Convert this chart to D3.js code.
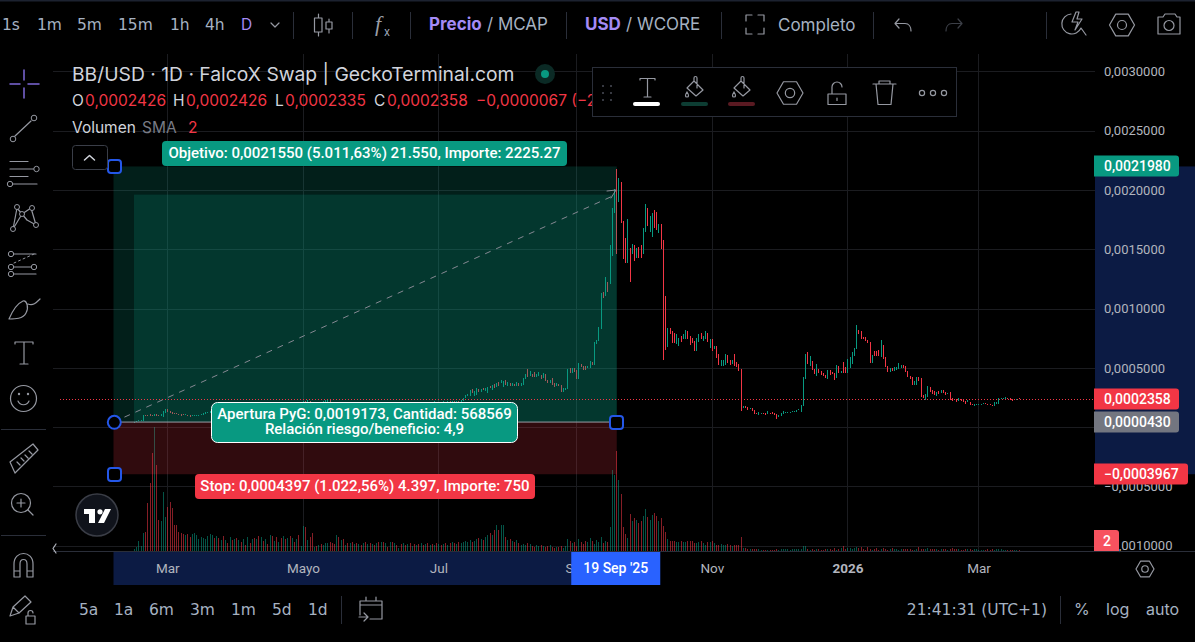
<!DOCTYPE html>
<html>
<head>
<meta charset="utf-8">
<script src="https://cdnjs.cloudflare.com/ajax/libs/d3/7.8.5/d3.min.js"></script>
<style>
  html, body { margin: 0; padding: 0; background: #000; overflow: hidden; }
  text { font-family: Roboto, "Noto Sans", sans-serif; }
</style>
</head>
<body>
<div id="chart"></div>
<script>
// prices are in millionths of a USD
var priceUnit = 1e-6;
var firstDay = new Date(2025, 1, 14);

var opens = [
  40,44,50,56,55,105,100,108,104,96,
  108,103,96,82,122,150,135,128,122,118,
  112,108,112,100,106,100,92,92,98,96,
  100,106,112,118,122,130,148,142,154,146,
  158,150,162,156,166,160,170,160,172,164,
  176,168,178,168,180,172,182,174,184,176,
  188,178,190,182,192,184,194,186,196,186,
  198,188,200,192,204,196,205,222,210,224,
  208,198,206,196,210,202,216,210,226,214,
  204,194,204,192,200,188,198,186,196,184,
  194,184,196,186,198,188,200,190,202,192,
  204,194,206,196,208,198,204,194,206,196,
  206,198,208,198,210,200,212,202,206,196,
  208,200,212,202,214,204,216,206,214,204,
  216,206,218,208,220,210,220,214,224,246,
  260,266,322,266,270,325,300,330,305,290,
  350,315,365,340,385,370,340,395,350,370,
  350,360,345,375,350,355,405,490,430,450,
  465,425,430,443,417,451,401,376,418,376,
  350,367,359,300,316,325,502,460,502,485,
  409,536,519,519,502,502,553,527,705,730,
  831,1143,1110,1228,1211,1447,1802,2173,1895,2063,
  1734,1591,1388,1507,1456,1532,1422,1515,1532,1464,
  1642,1844,1642,1600,1827,1810,1633,1709,1582,1110,
  680,840,814,797,705,688,772,747,747,814,
  772,755,730,646,722,797,730,747,797,671,
  747,663,688,620,519,519,527,612,570,535,
  620,553,536,494,165,181,173,156,165,148,
  122,105,114,122,122,110,122,131,122,114,
  88,97,114,122,125,125,127,128,131,146,
  131,181,409,637,519,561,494,435,494,477,
  460,443,409,485,468,460,418,519,460,553,
  510,460,502,536,603,663,823,814,764,764,
  739,722,544,646,646,654,595,696,595,519,
  468,502,477,485,494,502,527,519,477,435,
  426,359,359,426,418,274,232,257,342,317,
  308,266,308,291,317,299,283,299,249,241,
  241,224,240,232,224,215,215,198,182,190,
  190,190,203,207,198,198,190,182,198,198,
  241,243,241,249,249,241,232,226,243
];
var closes = [
  46,52,58,62,105,96,92,98,92,108,
  96,90,112,140,150,128,120,114,112,108,
  104,98,102,108,92,88,100,100,104,106,
  112,118,124,130,136,150,140,156,146,160,
  150,164,154,168,158,172,160,174,162,178,
  166,180,168,182,170,184,172,186,174,190,
  178,192,180,194,182,196,184,198,186,200,
  188,202,190,206,194,212,222,208,226,206,
  196,208,194,212,200,218,226,230,212,200,
  192,206,190,202,186,200,184,198,182,196,
  184,198,186,200,188,202,190,204,192,206,
  194,208,196,210,198,206,194,208,196,208,
  198,210,198,212,200,214,202,208,196,210,
  200,214,202,216,204,218,206,216,204,218,
  206,220,208,222,210,222,214,226,249,270,
  278,316,290,308,333,300,325,310,330,340,
  330,355,330,375,345,395,392,355,385,350,
  375,345,380,350,370,415,450,420,470,425,
  420,450,465,409,460,392,376,401,359,342,
  376,350,300,333,333,494,460,502,468,409,
  544,510,485,485,519,561,527,722,739,848,
  1135,1093,1262,1143,1532,1844,2004,1456,2097,1718,
  1414,1380,1751,1228,1540,1405,1507,1430,1430,1675,
  1878,1692,1777,1802,1675,1658,1709,1498,570,654,
  840,789,713,713,789,755,722,789,823,747,
  696,713,646,755,789,747,772,814,722,747,
  646,688,587,527,570,570,620,544,527,570,
  519,510,477,139,181,165,148,165,139,114,
  110,131,122,110,105,135,110,110,105,72,
  105,122,139,127,131,131,133,136,148,152,
  190,426,620,536,604,485,451,536,460,443,
  435,418,485,443,451,401,527,460,477,460,
  460,578,595,637,671,865,789,747,747,730,
  713,544,612,604,604,604,739,578,510,468,
  502,477,510,510,544,527,502,468,426,409,
  359,392,426,392,257,249,283,350,300,283,
  274,299,283,317,291,274,291,232,224,232,
  215,249,224,215,198,232,190,190,198,198,
  196,198,207,203,194,190,182,215,215,249,
  249,249,258,241,232,224,241,238,236
];
var volumes = [
  2,4,10,5,18,19,48,68,98,124,
  86,31,30,59,34,44,49,43,26,26,
  19,18,17,16,17,14,17,18,16,12,
  14,13,12,15,17,16,13,15,13,11,
  15,11,8,14,11,12,13,11,9,12,
  6,14,8,12,13,12,15,14,10,12,
  7,16,15,10,14,9,13,15,12,13,
  15,13,9,12,16,5,25,24,11,14,
  18,4,5,6,7,6,8,8,9,8,
  7,16,14,11,12,6,8,8,9,7,
  8,7,6,8,9,7,8,7,6,8,
  9,9,9,8,4,9,9,8,6,3,
  7,8,6,7,8,5,7,6,7,8,
  6,7,8,6,7,6,8,7,6,7,
  8,6,8,9,8,7,9,8,9,10,
  9,11,9,10,12,13,12,11,14,16,
  18,16,21,26,21,26,26,14,11,12,
  10,9,11,8,6,7,6,8,7,5,
  4,6,5,6,5,4,5,6,4,3,
  4,4,5,3,5,12,10,8,9,5,
  12,9,7,10,9,13,10,7,11,9,
  14,8,10,9,24,81,76,100,71,57,
  24,17,13,37,30,33,31,28,30,35,
  42,34,31,36,38,35,30,33,25,19,
  12,10,10,10,9,9,10,9,9,10,
  10,10,8,8,9,10,8,6,9,9,
  10,8,6,6,7,6,6,7,6,5,
  6,6,6,14,3,3,2,2,2,2,
  2,2,1,1,1,1,1,1,1,2,
  1,2,2,2,2,1,2,2,2,2,
  2,5,5,2,1,2,1,2,2,1,
  1,2,2,2,1,3,1,2,3,5,
  2,3,3,2,3,4,3,4,2,1,
  4,2,1,2,3,1,2,3,2,1,
  2,3,2,2,1,2,2,2,2,2,
  1,1,2,4,2,2,2,3,2,2,
  2,2,1,2,2,2,1,2,3,2,
  2,2,1,1,2,2,2,1,2,2,
  1,1,1,1,2,1,2,1,2,2,
  2,1,1,1,1,1,1,1,1
];

var priceTicks = [0.003, 0.0025, 0.002, 0.0015, 0.001, 0.0005, 0, -0.0005, -0.001];
var monthTicks = [new Date(2025,2,1), new Date(2025,4,1), new Date(2025,6,1), new Date(2025,8,1),
                  new Date(2025,10,1), new Date(2026,0,1), new Date(2026,2,1)];
var monthLabels = ["Mar", "Mayo", "Jul", "Sep", "Nov", "2026", "Mar"];

// long position drawing
var lastPrice = 0.0002358, entryPrice = 0.000043, targetPrice = 0.002198, stopPrice = -0.0003967, closedPrice = 0.0019603;
var positionEnd = new Date(2025,8,19);

var width = 1195, height = 642;
var GREEN = "#089981", RED = "#f23645", BLUE = "#2962ff", PURPLE = "#a48bf5";
var TOOLTEXT = "#a6b2c2", ICON = "#9598a1", SEP = "#2a2e39", GRID = "#1b1c20", NAVY = "#0c1b44";

var svg = d3.select("#chart").append("svg").attr("width", width).attr("height", height)
        .style("display", "block").style("background", "#000");

var x = d3.scaleTime().domain([firstDay, d3.timeDay.offset(firstDay, 398)]).range([134, 1018.5]);
var y = d3.scaleLinear().domain([0.003, -0.001]).range([71.3, 545.8]);
var yVol = d3.scaleLinear().domain([0, 124]).range([551, 427]);
var fmt = d3.formatLocale({decimal: ",", thousands: ".", grouping: [3], currency: ["", ""], minus: "\u2212"}).format(".7f");

function text(g, px, py, str, opts) {
    opts = opts || {};
    return g.append("text").attr("x", px).attr("y", py).text(str)
            .attr("fill", opts.fill || TOOLTEXT)
            .attr("font-size", opts.size || 15)
            .attr("font-weight", opts.weight || 400)
            .attr("text-anchor", opts.anchor || "start")
            .style("font-family", opts.family || null);
}
function icon(g, d, opts) {
    opts = opts || {};
    return g.append("path").attr("d", d).attr("fill", opts.fill || "none")
            .attr("stroke", opts.stroke || ICON).attr("stroke-width", opts.sw || 1.2)
            .attr("stroke-linecap", "round").attr("stroke-linejoin", "round");
}
function sep(g, x0, y0, y1, col) {
    g.append("line").attr("x1", x0 + 0.5).attr("x2", x0 + 0.5).attr("y1", y0).attr("y2", y1)
            .attr("stroke", col || SEP).attr("stroke-width", 1);
}
function hexagon(g, cx, cy, r) {
    var pts = d3.range(6).map(function (i) {
        var a = i * Math.PI / 3;
        return [cx + r * Math.cos(a), cy + r * Math.sin(a)];
    });
    icon(g, "M" + pts.join("L") + "Z");
    g.append("circle").attr("cx", cx).attr("cy", cy).attr("r", r * 0.36)
            .attr("fill", "none").attr("stroke", ICON).attr("stroke-width", 1.2);
}

// top strip
svg.append("rect").attr("width", width).attr("height", 1.5).attr("fill", "#1c2230");

// time and price highlights of the position
svg.append("rect").attr("x", 1095).attr("width", 100)
        .attr("y", y(targetPrice)).attr("height", y(stopPrice) - y(targetPrice)).attr("fill", NAVY);
svg.append("rect").attr("x", 113.5).attr("y", 552).attr("width", x(positionEnd) - 113).attr("height", 33).attr("fill", NAVY);

// grid
var grid = svg.append("g").attr("shape-rendering", "crispEdges");
grid.selectAll(".h").data(priceTicks).enter().append("line")
        .attr("x1", 53).attr("x2", 1095)
        .attr("y1", function (d) { return Math.round(y(d)) + 0.5; })
        .attr("y2", function (d) { return Math.round(y(d)) + 0.5; })
        .attr("stroke", GRID);
grid.selectAll(".v").data(monthTicks).enter().append("line")
        .attr("x1", function (d) { return Math.round(x(d)) + 0.5; })
        .attr("x2", function (d) { return Math.round(x(d)) + 0.5; })
        .attr("y1", 54).attr("y2", 551).attr("stroke", GRID);

var candles = opens.map(function (o, i) {
    return {date: d3.timeDay.offset(firstDay, i), open: o * priceUnit, close: closes[i] * priceUnit, volume: volumes[i]};
});
function candleColor(d) { return d.close >= d.open ? GREEN : RED; }

// volume
svg.append("g").attr("shape-rendering", "crispEdges").selectAll("rect").data(candles).enter().append("rect")
        .attr("x", function (d) { return Math.round(x(d.date)); })
        .attr("width", 1)
        .attr("y", function (d) { return yVol(d.volume); })
        .attr("height", function (d) { return 551 - yVol(d.volume); })
        .attr("fill", candleColor).attr("opacity", 0.55);

// candles
svg.append("g").attr("shape-rendering", "crispEdges").selectAll("rect").data(candles).enter().append("rect")
        .attr("x", function (d) { return Math.round(x(d.date)); })
        .attr("width", 1)
        .attr("y", function (d) { return y(Math.max(d.open, d.close)); })
        .attr("height", function (d) { return Math.max(1, Math.abs(y(d.open) - y(d.close))); })
        .attr("fill", candleColor);

// position overlays
var left = 113.5, right = x(positionEnd) + 0.5, yEntry = y(entryPrice);
var pos = svg.append("g");
pos.append("rect").attr("x", left).attr("y", y(targetPrice)).attr("width", right - left)
        .attr("height", yEntry - y(targetPrice)).attr("fill", GREEN).attr("fill-opacity", 0.2);
pos.append("rect").attr("x", x(firstDay)).attr("y", y(closedPrice)).attr("width", right - x(firstDay))
        .attr("height", yEntry - y(closedPrice)).attr("fill", GREEN).attr("fill-opacity", 0.2);
pos.append("rect").attr("x", left).attr("y", yEntry).attr("width", right - left)
        .attr("height", y(stopPrice) - yEntry).attr("fill", RED).attr("fill-opacity", 0.2);
pos.append("line").attr("x1", left).attr("x2", right).attr("y1", yEntry).attr("y2", yEntry)
        .attr("stroke", "#9a9ca5").attr("stroke-width", 1);
pos.append("line").attr("x1", left).attr("y1", yEntry).attr("x2", right - 1).attr("y2", y(closedPrice))
        .attr("stroke", "#868993").attr("stroke-width", 1).attr("stroke-dasharray", "6 6");
icon(pos, "M607 191L616 190L611 198", {stroke: "#868993", sw: 1});

// last price line
svg.append("line").attr("x1", 60).attr("x2", 1095).attr("y1", Math.round(y(lastPrice)) + 0.5).attr("y2", Math.round(y(lastPrice)) + 0.5)
        .attr("stroke", RED).attr("stroke-dasharray", "1 2").attr("shape-rendering", "crispEdges");

// axes
var priceAxis = svg.append("g").attr("transform", "translate(1095,0)")
        .call(d3.axisRight(y).tickValues(priceTicks).tickSize(0).tickPadding(9)
        .tickFormat(function (d) { return d === 0 ? "" : fmt(d); }));
priceAxis.select(".domain").remove();
priceAxis.selectAll("text").attr("fill", "#b2b5be").attr("font-size", 13).style("font-family", "Roboto, sans-serif");

svg.append("line").attr("x1", 53).attr("x2", width).attr("y1", 551.5).attr("y2", 551.5).attr("stroke", SEP);

var timeAxis = svg.append("g").attr("transform", "translate(0,552)")
        .call(d3.axisBottom(x).tickValues(monthTicks).tickSize(0).tickPadding(9)
        .tickFormat(function (d, i) { return monthLabels[i]; }));
timeAxis.select(".domain").remove();
timeAxis.selectAll("text").attr("fill", "#b2b5be").attr("font-size", 13.5).attr("dy", "0.9em")
        .style("font-family", "Roboto, sans-serif")
        .attr("font-weight", function (d, i) { return monthLabels[i] === "2026" ? 700 : 400; });

// date tag
var dateTag = svg.append("g");
dateTag.append("rect").attr("x", x(positionEnd) - 45).attr("y", 552).attr("width", 89).attr("height", 33).attr("fill", BLUE);
text(dateTag, x(positionEnd) - 0.5, 573, "19 Sep '25", {fill: "#fff", size: 14, anchor: "middle", weight: 500});

// price tags
function priceTag(price, fill, w) {
    var g = svg.append("g");
    var cy = Math.round(y(price));
    g.append("path").attr("fill", fill)
            .attr("d", "M1094 " + (cy - 10.5) + "H" + (1094 + w - 3) + "a3 3 0 0 1 3 3V" + (cy + 7.5) + "a3 3 0 0 1 -3 3H1094Z");
    text(g, 1104, cy + 5, fmt(price), {fill: "#fff", size: 14, weight: 500});
}
priceTag(targetPrice, GREEN, 85);
priceTag(lastPrice, RED, 85);
priceTag(entryPrice, "#737680", 85);
priceTag(stopPrice, RED, 94);
var volTag = svg.append("g");
volTag.append("path").attr("fill", "#f7525f").attr("d", "M1094 530H1116a3 3 0 0 1 3 3V551H1094Z");
text(volTag, 1107, 546, "2", {fill: "#fff", size: 14, weight: 500, anchor: "middle"});

// position labels
var labels = svg.append("g");
labels.append("rect").attr("x", 162).attr("y", 141).attr("width", 405).attr("height", 25).attr("rx", 4).attr("fill", GREEN);
text(labels, 364.5, 158, "Objetivo: 0,0021550 (5.011,63%) 21.550, Importe: 2225.27", {fill: "#fff", size: 15, anchor: "middle", weight: 500});
labels.append("rect").attr("x", 195).attr("y", 474).attr("width", 340).attr("height", 25).attr("rx", 4).attr("fill", RED);
text(labels, 365, 491, "Stop: 0,0004397 (1.022,56%) 4.397, Importe: 750", {fill: "#fff", size: 15, anchor: "middle", weight: 500});
labels.append("rect").attr("x", 211.5).attr("y", 402.5).attr("width", 306).attr("height", 40).attr("rx", 6).attr("fill", GREEN).attr("stroke", "#fff");
text(labels, 364.5, 419, "Apertura PyG: 0,0019173, Cantidad: 568569", {fill: "#fff", size: 15, anchor: "middle", weight: 500});
text(labels, 364.5, 434, "Relación riesgo/beneficio: 4,9", {fill: "#fff", size: 15, anchor: "middle", weight: 500});

// handles
var handles = svg.append("g").attr("fill", "#000").attr("stroke", "#2457e8").attr("stroke-width", 2);
handles.append("rect").attr("x", 108).attr("y", 160).attr("width", 13).attr("height", 13).attr("rx", 3);
handles.append("rect").attr("x", 108).attr("y", 468).attr("width", 13).attr("height", 13).attr("rx", 3);
handles.append("rect").attr("x", 610).attr("y", 416).attr("width", 13).attr("height", 13).attr("rx", 3);
handles.append("circle").attr("cx", 114.3).attr("cy", 422.3).attr("r", 6.5);

// legend
var legend = svg.append("g");
text(legend, 72, 80.5, "BB/USD · 1D · FalcoX Swap | GeckoTerminal.com", {fill: "#d1d4dc", size: 19.3, family: "Inter"});
legend.append("circle").attr("cx", 545).attr("cy", 74).attr("r", 10).attr("fill", "#0b2a25");
legend.append("circle").attr("cx", 545).attr("cy", 74).attr("r", 4).attr("fill", GREEN);
[["O", 72, "0,0002426", 85], ["H", 173, "0,0002426", 186], ["L", 275, "0,0002335", 285], ["C", 374, "0,0002358", 387]].forEach(function (r) {
    text(legend, r[1], 105.5, r[0], {fill: "#d1d4dc", size: 15.5, family: "Inter"});
    text(legend, r[3], 105.5, r[2], {fill: RED, size: 15.5, family: "Inter"});
});
text(legend, 476, 105.5, "\u22120,0000067 (\u22122,76%)", {fill: RED, size: 15.5, family: "Inter"});
text(legend, 72, 132.5, "Volumen", {fill: "#d1d4dc", size: 15.5, family: "Inter"});
text(legend, 142, 132.5, "SMA", {fill: "#787b86", size: 15.5, family: "Inter"});
text(legend, 188, 132.5, "2", {fill: RED, size: 15.5, family: "Inter"});
legend.append("rect").attr("x", 72.5).attr("y", 145.5).attr("width", 35).attr("height", 24).attr("rx", 3)
        .attr("fill", "#000").attr("stroke", "#3a3e48");
icon(legend, "M84.5 160L89.5 155.5L94.5 160", {stroke: "#d1d4dc", sw: 1.5});

// floating drawing toolbar
var fl = svg.append("g");
fl.append("rect").attr("x", 592.5).attr("y", 67.5).attr("width", 364).attr("height", 49).attr("fill", "#000").attr("stroke", "#2a2e39");
d3.range(3).forEach(function (r) {
    d3.range(2).forEach(function (c) {
        fl.append("circle").attr("cx", 603 + c * 8).attr("cy", 86 + r * 7).attr("r", 1).attr("fill", "#4a4d57");
    });
});
icon(fl, "M640 80V78.5H655V80M647.5 78.5V97M644 97H651");
fl.append("rect").attr("x", 633).attr("y", 102).attr("width", 27).attr("height", 4).attr("rx", 2).attr("fill", "#fff");
icon(fl, "M694 81L703 90L696 96L687 88ZM694 81V78a1.5 1.5 0 0 1 3 0V88M687 92c-2 3 -2 5 0 5c2 0 2 -2 0 -5");
fl.append("rect").attr("x", 681).attr("y", 102).attr("width", 27).attr("height", 4).attr("rx", 2).attr("fill", "#0d3d33");
icon(fl, "M741 81L750 90L743 96L734 88ZM741 81V78a1.5 1.5 0 0 1 3 0V88M734 92c-2 3 -2 5 0 5c2 0 2 -2 0 -5");
fl.append("rect").attr("x", 728).attr("y", 102).attr("width", 27).attr("height", 4).attr("rx", 2).attr("fill", "#5a1a22");
hexagon(fl, 790, 93, 13);
icon(fl, "M828 94H846V104.5H828ZM832 94V87a5 5 0 0 1 10 0M837 98V100.5");
icon(fl, "M873 84H896M879 84V81H890V84M876 84L878 104.5H891L893 84");
[922, 933, 944].forEach(function (cx) {
    fl.append("circle").attr("cx", cx).attr("cy", 93).attr("r", 2.6).attr("fill", "none").attr("stroke", ICON).attr("stroke-width", 1.2);
});

// left toolbar
var side = svg.append("g");
icon(side, "M24 70V80M24 88V98M10 84H20M28 84H39", {stroke: "#7d68d8", sw: 1.5});
icon(side, "M15 136L31 121");
side.append("circle").attr("cx", 13).attr("cy", 139).attr("r", 2.8).attr("fill", "none").attr("stroke", ICON);
side.append("circle").attr("cx", 34).attr("cy", 118).attr("r", 2.8).attr("fill", "none").attr("stroke", ICON);
icon(side, "M10 161.5H28M10 169H34M10 176.5H28M13 184H37");
side.append("circle").attr("cx", 36.5).attr("cy", 169).attr("r", 2.7).attr("fill", "#000").attr("stroke", ICON);
side.append("circle").attr("cx", 10).attr("cy", 184).attr("r", 2.7).attr("fill", "#000").attr("stroke", ICON);
icon(side, "M13 229L17 208L22 214L31 208L36 225M17 208L27 220M22 214L13 229M27 220L36 225");
[[13, 229], [17, 207], [22, 214], [32, 208], [36, 225]].forEach(function (p) {
    side.append("circle").attr("cx", p[0]).attr("cy", p[1]).attr("r", 2.5).attr("fill", "#000").attr("stroke", ICON);
});
icon(side, "M14 254H36M14 267H31M14 274H36");
icon(side, "M14 263L34 254", {sw: 1}).attr("stroke-dasharray", "2 3");
[[11, 254], [11, 267], [34, 267], [11, 274]].forEach(function (p) {
    side.append("circle").attr("cx", p[0]).attr("cy", p[1]).attr("r", 2.7).attr("fill", "#000").attr("stroke", ICON);
});
icon(side, "M9 319C12 312 16 304 23 301C27 300 29 308 26 313C23 319 15 319 9 319ZM28 304C33 306 36 303 40 299");
icon(side, "M15 344V342H33V344M24 342V364M20 364H28");
side.append("circle").attr("cx", 23.5).attr("cy", 398.5).attr("r", 13).attr("fill", "none").attr("stroke", ICON).attr("stroke-width", 1.2);
icon(side, "M18 401C20 406 27 406 29 401");
side.append("circle").attr("cx", 19).attr("cy", 394).attr("r", 1.2).attr("fill", ICON);
side.append("circle").attr("cx", 28).attr("cy", 394).attr("r", 1.2).attr("fill", ICON);
side.append("line").attr("x1", 1).attr("x2", 46).attr("y1", 429.5).attr("y2", 429.5).attr("stroke", SEP);
icon(side, "M10 462L33 444L38 450L15 473ZM17 462L20 465M21 458L24 461M25 455L28 458M29 451L32 454");
side.append("circle").attr("cx", 21).attr("cy", 503).attr("r", 9.5).attr("fill", "none").attr("stroke", ICON).attr("stroke-width", 1.2);
icon(side, "M21 499V507M17 503H25M28 510L33 515");
side.append("line").attr("x1", 1).attr("x2", 46).attr("y1", 535.5).attr("y2", 535.5).attr("stroke", SEP);
icon(side, "M14 577V564C14 550 33 550 33 564V577H27V564C27 558 20 558 20 564V577ZM14 571H20M27 571H33");
icon(side, "M10 616L13 607L25 596L31 602L19 613ZM13 607L19 613");
icon(side, "M26 616H35V624H26ZM28 616V613a2.5 2.5 0 0 1 5 0");
icon(side, "M56 544L53 548.5L56 553", {sw: 1.2, stroke: "#b2b5be"});

// logo
var logo = svg.append("g");
logo.append("circle").attr("cx", 97).attr("cy", 515).attr("r", 21).attr("fill", "#10131b").attr("stroke", "#3a3d46").attr("stroke-width", 1.5);
logo.append("path").attr("fill", "#fff").attr("d", "M84 509H95V523H89V514H84ZM105 509H111L104 523H98Z");
logo.append("circle").attr("cx", 100).attr("cy", 511.8).attr("r", 2.6).attr("fill", "#fff");

// top toolbar
var topBar = svg.append("g");
[["1s", 2], ["1m", 37], ["5m", 77], ["15m", 118], ["1h", 170], ["4h", 205]].forEach(function (r) {
    text(topBar, r[1], 30, r[0], {size: 15.5, family: "DejaVu Sans"});
});
text(topBar, 241, 30, "D", {fill: PURPLE, size: 15.5, family: "Inter"});
icon(topBar, "M271 23L275 27L279 23");
sep(topBar, 293, 12, 39);
icon(topBar, "M318.5 14V18M318.5 32V36M314.5 18H322V32H314.5ZM329 19V22M329 29V33M326 22H332V29H326Z");
sep(topBar, 352, 12, 39);
text(topBar, 375, 31, "f", {size: 22, family: "Liberation Serif", fill: "#9a9da6"}).style("font-style", "italic");
text(topBar, 384, 36, "x", {size: 11, family: "Inter"});
sep(topBar, 410, 12, 39);
text(topBar, 429, 30, "Precio", {fill: PURPLE, size: 17, weight: 700, family: "Inter"});
text(topBar, 487, 30, "/ MCAP", {size: 17, family: "Inter"});
sep(topBar, 566, 12, 39);
text(topBar, 585, 30, "USD", {fill: PURPLE, size: 17, weight: 700, family: "Inter"});
text(topBar, 626, 30, "/ WCORE", {size: 17, family: "Inter"});
sep(topBar, 721, 12, 39);
icon(topBar, "M746 21V15H752M758 15H764V21M764 28V34H758M752 34H746V28");
text(topBar, 778, 31, "Completo", {size: 17, family: "Inter"});
sep(topBar, 873, 12, 39);
icon(topBar, "M899 19L895 23.5L899 28M895 23.5H905C909 23.5 911 27 911 31");
icon(topBar, "M958 19L962 23.5L958 28M962 23.5H952C948 23.5 946 27 946 31", {stroke: "#3c3f47"});
sep(topBar, 1046, 12, 39);
icon(topBar, "M1071 14A10 10 0 1 0 1081 28L1086 35M1076 12L1072 22H1078L1075 30L1082 19H1077L1079 12Z");
hexagon(topBar, 1122, 25, 12.5);
icon(topBar, "M1160 17H1163L1165 14H1175L1177 17H1180V34H1158V17Z");
topBar.append("circle").attr("cx", 1169).attr("cy", 25.5).attr("r", 5).attr("fill", "none").attr("stroke", ICON).attr("stroke-width", 1.2);

// bottom toolbar
var bottomBar = svg.append("g");
[["5a", 79], ["1a", 114], ["6m", 149], ["3m", 190], ["1m", 231], ["5d", 272], ["1d", 308]].forEach(function (r) {
    text(bottomBar, r[1], 615, r[0], {size: 15.5, family: "DejaVu Sans"});
});
sep(bottomBar, 341, 596, 624);
icon(bottomBar, "M360 615V601H382V619H370M360 605H382M366 597V601M376 597V601M359 617H367M364 613L368 617L364 621");
text(bottomBar, 1047, 615, "21:41:31 (UTC+1)", {size: 15.5, anchor: "end", family: "DejaVu Sans"});
sep(bottomBar, 1060, 596, 624);
text(bottomBar, 1074, 615, "%", {size: 16, family: "Inter"});
text(bottomBar, 1106, 615, "log", {size: 16, family: "Inter"});
text(bottomBar, 1146, 615, "auto", {size: 16, family: "Inter"});
hexagon(svg.append("g"), 1145, 569, 9);
</script>
</body>
</html>
